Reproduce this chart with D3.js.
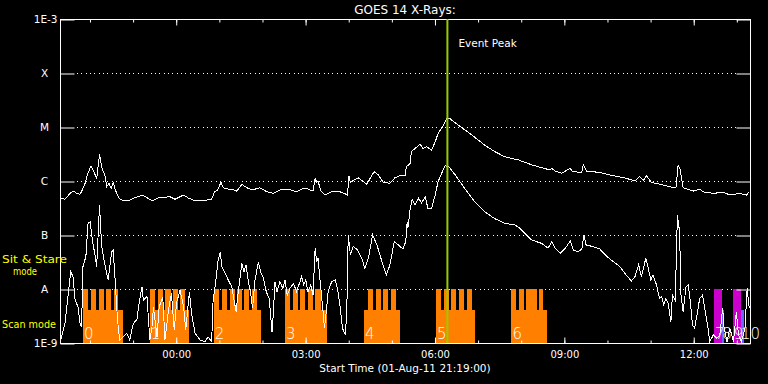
<!DOCTYPE html>
<html>
<head>
<meta charset="utf-8">
<script src="https://cdnjs.cloudflare.com/ajax/libs/d3/7.8.5/d3.min.js"></script>
<style>
  body { margin: 0; background: #000; }
  svg { display: block; color: #fff; }
  text { font-family: "DejaVu Sans", sans-serif; fill: #fff; }
  .tick text { font-size: 10px; }
  .ylab .tick text { font-size: 10.5px; }
</style>
</head>
<body>
<svg id="chart" width="768" height="384"></svg>
<script>
/* ===== データ ===== */

// 時間軸 (開始時刻と表示時間)
const startTime = "2011-08-01T21:19:00Z";
const spanHours = 16;
const eventPeak = "2011-08-02T06:18:00Z";

// y 軸の目盛り (W/m^2) とラベル
const fluxTicks = [1e-9, 1e-8, 1e-7, 1e-6, 1e-5, 1e-4, 1e-3];
const fluxLabels = ["1E-9", "A", "B", "C", "M", "X", "1E-3"];

// 長波長チャンネル [開始からの分, フラックス]
const longChannel = [
  [0,4.8e-7],[7,4.6e-7],[14,5.9e-7],[19,6.5e-7],[23,5.9e-7],[28,5.7e-7],[31,6.8e-7],
  [35,9.1e-7],[38,1.3e-6],[43,1.9e-6],[48,1.4e-6],[51,1.1e-6],[55,3.1e-6],[58,1.8e-6],
  [63,1.2e-6],[65,7.8e-7],[68,9.1e-7],[71,7.3e-7],[74,9.4e-7],[77,6.8e-7],[82,4.8e-7],
  [88,4.3e-7],[95,4.3e-7],[104,4.9e-7],[115,5.5e-7],[128,4.3e-7],[137,4.9e-7],[153,5.1e-7],
  [160,4.6e-7],[172,5.5e-7],[179,4.8e-7],[188,4.3e-7],[199,4.3e-7],[211,4.6e-7],[215,6.3e-7],
  [219,6.8e-7],[224,9.4e-7],[227,7.5e-7],[234,7.1e-7],[243,6.8e-7],[246,6.5e-7],[253,8.7e-7],
  [260,7.5e-7],[267,6.8e-7],[278,7.5e-7],[288,6.3e-7],[297,5.9e-7],[306,6.8e-7],[318,7.0e-7],
  [329,6.3e-7],[338,7.3e-7],[345,7.1e-7],[352,6.5e-7],[355,1.15e-6],[357,9.4e-7],[359,1.0e-6],
  [363,6.5e-7],[369,5.5e-7],[376,6.2e-7],[383,6.5e-7],[392,6.2e-7],[400,5.5e-7],[402,1.25e-6],
  [404,9.4e-7],[409,1.04e-6],[415,1.15e-6],[421,1.0e-6],[427,8.7e-7],[431,1.09e-6],[437,1.49e-6],
  [443,1.29e-6],[450,9.4e-7],[459,9.1e-7],[466,1.15e-6],[473,1.25e-6],[480,1.25e-6],[482,1.84e-6],
  [485,1.98e-6],[487,2.1e-6],[489,3.5e-6],[494,4.0e-6],[501,4.8e-6],[505,4.0e-6],[510,4.3e-6],
  [517,3.75e-6],[522,5.3e-6],[526,7.6e-6],[532,1.0e-5],[538,1.41e-5],[543,1.41e-5],[554,1.09e-5],
  [573,7.1e-6],[591,4.6e-6],[605,3.5e-6],[619,2.8e-6],[638,2.45e-6],[656,2.0e-6],[670,1.76e-6],
  [682,1.6e-6],[684,1.72e-6],[689,1.53e-6],[698,1.39e-6],[710,1.72e-6],[712,1.53e-6],[721,1.45e-6],
  [726,1.45e-6],[728,2.0e-6],[733,1.49e-6],[742,1.49e-6],[756,1.39e-6],[770,1.25e-6],[788,1.12e-6],
  [800,1.0e-6],[806,1.2e-6],[812,1.04e-6],[816,1.25e-6],[823,9.4e-7],[835,8.7e-7],[849,7.8e-7],
  [857,7.5e-7],[860,2.0e-6],[863,1.6e-6],[867,7.5e-7],[881,6.5e-7],[890,7.1e-7],[895,6.3e-7],
  [909,5.9e-7],[923,6.2e-7],[932,5.5e-7],[946,5.9e-7],[955,5.5e-7],[959,6.3e-7]
];

// 短波長チャンネル [開始からの分, フラックス]
const shortChannel = [
  [0,1.0e-9],[2,1.3e-9],[7,2.35e-9],[12,9.6e-9],[15,2.1e-8],[18,1.7e-8],[21,6.2e-9],[25,4.7e-9],
  [28,2.3e-9],[30,2.0e-9],[32,2.6e-8],[36,4.0e-8],[39,1.65e-7],[42,1.76e-7],[45,8.1e-8],[49,4.0e-8],
  [51,2.6e-8],[55,3.6e-7],[58,6.1e-8],[63,2.6e-8],[67,1.47e-8],[72,4.9e-8],[74,5.3e-8],[77,1.27e-8],
  [80,2.7e-9],[83,1.14e-9],[88,1.3e-9],[93,1.5e-9],[97,1.14e-9],[102,2.3e-9],[107,2.7e-9],[110,5.4e-9],
  [114,1.1e-8],[116,6.2e-9],[121,7.2e-9],[125,1.14e-9],[128,2.0e-9],[130,4.7e-9],[135,1.3e-9],
  [138,4.7e-9],[143,7.2e-9],[146,1.14e-9],[151,4.1e-9],[155,8.3e-9],[159,1.74e-9],[162,5.4e-9],
  [167,9.6e-9],[172,4.7e-9],[175,1.74e-9],[180,8.9e-9],[183,3.55e-9],[188,1.5e-9],[195,1.14e-9],
  [202,1.06e-9],[206,1.3e-9],[211,1.06e-9],[213,6.2e-9],[217,1.47e-8],[220,3.4e-8],[223,4.9e-8],
  [225,2.6e-8],[230,1.95e-8],[234,1.47e-8],[239,1.1e-8],[243,5.4e-9],[245,3.8e-9],[248,8.9e-9],
  [253,3.0e-8],[256,2.1e-8],[259,2.8e-8],[262,1.37e-8],[265,8.9e-9],[268,4.4e-9],[271,1.37e-8],
  [276,3.2e-8],[279,2.1e-8],[283,1.58e-8],[287,8.9e-9],[291,6.7e-9],[295,1.6e-9],[297,3.8e-9],
  [299,1.37e-8],[302,8.9e-9],[306,1.37e-8],[310,1.03e-8],[313,1.47e-8],[316,7.7e-9],[320,1.03e-8],
  [325,1.27e-8],[329,8.9e-9],[334,1.37e-8],[336,1.7e-8],[339,1.19e-8],[342,1.47e-8],[345,8.9e-9],
  [349,1.19e-8],[352,7.7e-9],[355,5.7e-8],[357,3.2e-8],[359,3.7e-8],[362,1.37e-8],[366,3.8e-9],
  [368,1.87e-9],[371,4.4e-9],[373,8.9e-9],[378,1.37e-8],[383,1.47e-8],[386,1.03e-8],[390,4.4e-9],
  [393,1.87e-9],[397,1.41e-9],[399,3.8e-9],[401,1.0e-7],[404,4.3e-8],[408,6.1e-8],[414,5.3e-8],
  [420,3.7e-8],[424,2.4e-8],[429,3.7e-8],[435,1.0e-7],[441,6.5e-8],[448,3.2e-8],[454,1.8e-8],
  [459,2.8e-8],[465,7.5e-8],[471,6.5e-8],[477,5.5e-8],[481,7.5e-8],[483,1.76e-7],[484,1.33e-7],
  [487,2.9e-7],[490,4.6e-7],[494,3.6e-7],[499,4.8e-7],[503,3.9e-7],[508,5.1e-7],[512,3.1e-7],
  [517,3.1e-7],[522,5.5e-7],[526,9.7e-7],[532,1.49e-6],[536,1.92e-6],[541,1.84e-6],[550,1.29e-6],
  [563,7.3e-7],[577,4.1e-7],[591,2.7e-7],[605,2.0e-7],[619,1.65e-7],[633,1.53e-7],[640,1.33e-7],
  [647,1.07e-7],[656,8.1e-8],[670,7.0e-8],[679,5.7e-8],[684,7.5e-8],[689,5.7e-8],[696,4.6e-8],
  [703,5.7e-8],[710,7.7e-8],[714,5.3e-8],[721,4.9e-8],[726,5.5e-8],[729,1.0e-7],[732,6.5e-8],
  [742,6.1e-8],[751,5.5e-8],[761,4.0e-8],[770,3.2e-8],[779,2.6e-8],[788,1.8e-8],[795,1.41e-8],
  [800,1.7e-8],[805,2.8e-8],[809,1.7e-8],[815,3.7e-8],[818,2.6e-8],[822,1.47e-8],[825,1.8e-8],
  [830,1.19e-8],[834,6.7e-9],[837,7.2e-9],[840,5.0e-9],[843,6.7e-9],[846,5.4e-9],[850,2.5e-9],
  [852,7.7e-9],[856,6.2e-9],[859,2.35e-7],[862,1.15e-7],[864,7.7e-9],[867,3.8e-9],[871,1.1e-8],
  [874,1.19e-8],[877,5.8e-9],[880,2.15e-9],[883,1.87e-9],[887,3.8e-9],[890,6.7e-9],[894,7.7e-9],
  [897,4.4e-9],[901,2.15e-9],[904,1.06e-9],[909,1.41e-9],[914,1.22e-9],[918,1.41e-9],[922,4.4e-9],
  [924,1.87e-9],[928,1.06e-9],[932,1.87e-9],[937,1.06e-9],[941,3.8e-9],[944,1.41e-9],[948,1.06e-9],
  [953,1.87e-9],[956,1.03e-8],[959,4.4e-9]
];

// 観測モードの高さ (フラックス換算)
const stareLevel = 1e-8;
const scanLevel = 4.1e-9;

// スキャンモードの区間 [開始分, 終了分]
const scanBlocks = [[32,88],[125,180],[214,279],[313,372],[423,473],[523,578],[628,677]];

// Sit & Stare モードの区間 [開始分, 終了分]
const stareIntervals = [
  [32,39],[43,50],[54,61],[64,71],[75,81],
  [125,132],[136,143],[146,154],[157,164],[167,174],
  [214,221],[225,232],[236,243],[246,253],[256,263],[267,274],
  [313,320],[324,331],[334,341],[345,352],[355,363],
  [428,435],[439,446],[449,456],[460,468],
  [523,530],[534,541],[544,551],[555,562],[566,573],
  [628,635],[639,646],[649,663],[667,672]
];

// 別モード (7-10)
const altStare = [[910,921],[937,947]];
const altScan = [[921,924],[947,952]];

// 区間の番号
const blockLabels = ["0","1","2","3","4","5","6","7","8","9","10"];
const blockLabelMinutes = [32,125,214,313,423,523,628,910,920,936,946];

/* ===== 描画 ===== */
const width = 768, height = 384;
const margin = {top: 19, right: 18, bottom: 41, left: 60};
const innerBottom = height - margin.bottom;
const innerRight = width - margin.right;

const svg = d3.select("#chart");
svg.append("rect").attr("width", width).attr("height", height).attr("fill", "#000");

const t0 = new Date(startTime);
const toTime = m => new Date(t0.getTime() + m * 60000);

const x = d3.scaleUtc()
  .domain([t0, d3.utcHour.offset(t0, spanHours)])
  .range([margin.left, innerRight]);
const y = d3.scaleLog()
  .domain([1e-9, 1e-3])
  .range([innerBottom, margin.top]);

// クリップ領域
svg.append("clipPath").attr("id", "plot-clip")
  .append("rect")
  .attr("x", margin.left).attr("y", margin.top)
  .attr("width", innerRight - margin.left)
  .attr("height", innerBottom - margin.top);

// 罫線 (点線)
const grid = svg.append("g").attr("transform", "translate(0,0.5)");
fluxTicks.slice(1, -1).forEach(v => {
  grid.append("line")
    .attr("x1", 77).attr("x2", innerRight - 13)
    .attr("y1", y(v)).attr("y2", y(v))
    .attr("stroke", "#fff")
    .attr("stroke-dasharray", "1,3.33")
    .attr("shape-rendering", "crispEdges");
});

// 観測モードの帯を描画する
const modes = svg.append("g");
const rectBetween = (g, pairs, level, color) => {
  g.selectAll(null).data(pairs).join("rect")
    .attr("x", d => x(toTime(d[0])))
    .attr("width", d => x(toTime(d[1])) - x(toTime(d[0])))
    .attr("y", y(level))
    .attr("height", innerBottom - y(level))
    .attr("fill", color)
    .attr("shape-rendering", "crispEdges");
};
rectBetween(modes, scanBlocks, scanLevel, "#ff8000");
rectBetween(modes, stareIntervals, stareLevel, "#ff8000");
rectBetween(modes, altStare, stareLevel, "#cc00cc");
rectBetween(modes, altScan, scanLevel, "#6666ff");

// 区間番号
svg.append("g").selectAll("text").data(blockLabels).join("text")
  .attr("x", (d, i) => x(toTime(blockLabelMinutes[i])) + 1)
  .attr("y", innerBottom - 4)
  .attr("font-size", "15px")
  .attr("font-weight", 200)
  .text(d => d);

// 折れ線を描画する
const lineFunc = d3.line()
  .x(d => x(toTime(d[0])))
  .y(d => y(d[1]));

[longChannel, shortChannel].forEach(data => {
  svg.append("path")
    .datum(data)
    .attr("clip-path", "url(#plot-clip)")
    .attr("d", lineFunc)
    .attr("fill", "none")
    .attr("stroke", "#fff")
    .attr("stroke-width", 1)
    .attr("shape-rendering", "crispEdges");
});

// 軸
const axes = svg.append("g").attr("transform", "translate(0.5,0.5)");

axes.append("g").attr("class", "ylab")
  .attr("transform", `translate(${margin.left},0)`)
  .call(d3.axisLeft(y).tickValues(fluxTicks)
    .tickFormat((d, i) => fluxLabels[i]).tickSize(-14))
  .call(g => g.select(".domain").remove())
  .call(g => g.selectAll(".tick text")
    .attr("x", (d, i) => (i === 0 || i === fluxTicks.length - 1) ? -3 : -16)
    .attr("text-anchor", (d, i) => (i === 0 || i === fluxTicks.length - 1) ? "end" : "middle"));

axes.append("g")
  .attr("transform", `translate(${innerRight},0)`)
  .call(d3.axisRight(y).tickValues(fluxTicks).tickFormat("").tickSize(-14))
  .call(g => g.select(".domain").remove());

// 上下の時間軸 (3 時間ごとに長い目盛り)
const addTimeAxes = (axisFn, yPos, labels) => {
  axes.append("g")
    .attr("transform", `translate(0,${yPos})`)
    .call(axisFn(x).ticks(d3.utcHour.every(1)).tickFormat("").tickSize(-3))
    .call(g => g.select(".domain").remove());
  axes.append("g")
    .attr("transform", `translate(0,${yPos})`)
    .call(axisFn(x).ticks(d3.utcHour.every(3))
      .tickFormat(labels ? d3.utcFormat("%H:%M") : "")
      .tickSize(-6).tickPadding(7))
    .call(g => g.select(".domain").remove());
};
addTimeAxes(d3.axisTop, margin.top, false);
addTimeAxes(d3.axisBottom, innerBottom, true);

// 枠
axes.append("rect")
  .attr("x", margin.left).attr("y", margin.top)
  .attr("width", innerRight - margin.left)
  .attr("height", innerBottom - margin.top)
  .attr("fill", "none").attr("stroke", "#fff");

// イベントピーク
const xPeak = x(new Date(eventPeak));
svg.append("line")
  .attr("x1", xPeak).attr("x2", xPeak)
  .attr("y1", margin.top).attr("y2", innerBottom)
  .attr("stroke", "#99cc00").attr("stroke-width", 2);
svg.append("text")
  .attr("x", xPeak + 11).attr("y", 47)
  .attr("font-size", "10.5px")
  .text("Event Peak");

// タイトルと軸ラベル
svg.append("text")
  .attr("x", (margin.left + innerRight) / 2).attr("y", 14)
  .attr("text-anchor", "middle").attr("font-size", "12px")
  .text("GOES 14 X-Rays:");
svg.append("text")
  .attr("x", (margin.left + innerRight) / 2).attr("y", 372)
  .attr("text-anchor", "middle").attr("font-size", "10.5px")
  .text("Start Time (01-Aug-11 21:19:00)");

// モードの説明 (黄色)
const modeText = [
  {text: "Sit & Stare", x: 2, y: 263, w: 65},
  {text: "mode", x: 13, y: 274.5, w: 24},
  {text: "Scan mode", x: 2, y: 328, w: 54}
];
svg.append("g").selectAll("text").data(modeText).join("text")
  .attr("x", d => d.x).attr("y", d => d.y)
  .attr("font-size", "11px")
  .attr("textLength", d => d.w)
  .attr("lengthAdjust", "spacingAndGlyphs")
  .style("fill", "#ffff00")
  .text(d => d.text);
</script>
</body>
</html>
